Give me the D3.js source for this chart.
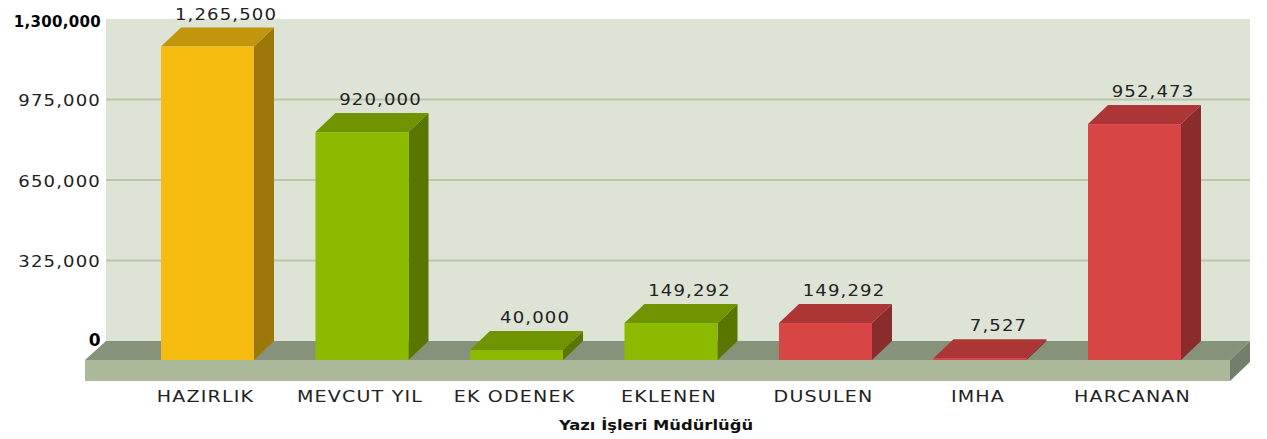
<!DOCTYPE html>
<html>
<head>
<meta charset="utf-8">
<script src="https://cdn.jsdelivr.net/npm/d3@7/dist/d3.min.js"></script>
<style>
html,body{margin:0;padding:0;background:#fff}
svg{display:block}
text{font-family:"DejaVu Sans",sans-serif;fill:#222}
</style>
</head>
<body>
<div id="chart"></div>
<script>
const categories = ["HAZIRLIK","MEVCUT YIL","EK ODENEK","EKLENEN","DUSULEN","IMHA","HARCANAN"];
const values = [1265500,920000,40000,149292,149292,7527,952473];
const groups = ["y","g","g","g","r","r","r"];
const yTicks = [0,325000,650000,975000,1300000];
const boldTicks = [0,1300000];
const xTitle = "Yazı İşleri Müdürlüğü";
const palette = {
  y:{front:"#f5bc0f",top:"#c2960c",side:"#9c780a"},
  g:{front:"#8cba00",top:"#6f9400",side:"#597600"},
  r:{front:"#d84545",top:"#ac3636",side:"#8b2c2c"}
};
const W=1267,H=439, dx=20, dy=19;
const svg=d3.select("#chart").append("svg").attr("width",W).attr("height",H);
const y=d3.scaleLinear().domain([0,1300000]).range([341,19]);
const x=d3.scaleBand().domain(categories).range([130.25,1211.75]).paddingInner(0.398).paddingOuter(0.199);
const fmt=d3.format(",");
const wallL=106, wallR=1250, floorH=21;
const poly=pts=>pts.map(p=>p.join(",")).join(" ");
const place=(px,py,k)=>`translate(${px},${py}) scale(${k},1)`;

svg.append("rect").attr("x",wallL).attr("y",y(1300000)).attr("width",wallR-wallL).attr("height",y(0)-y(1300000)).attr("fill","#dde3d5");
svg.selectAll("line.grid").data(yTicks.slice(1,-1)).join("line").attr("class","grid")
  .attr("x1",wallL).attr("x2",wallR).attr("y1",d=>y(d)).attr("y2",d=>y(d))
  .attr("stroke","#b9c6aa").attr("stroke-width",2);

const fy=y(0)+dy;
svg.append("polygon").attr("points",poly([[wallL-dx-1,fy],[wallL,y(0)],[wallR,y(0)],[wallR-dx,fy]])).attr("fill","#87927a");
svg.append("rect").attr("x",wallL-dx-1).attr("y",fy).attr("width",wallR-wallL+1).attr("height",floorH).attr("fill","#acb89a");
svg.append("polygon").attr("points",poly([[wallR-dx,fy],[wallR,y(0)],[wallR,y(0)+floorH],[wallR-dx,fy+floorH]])).attr("fill","#737f68");

const isBold=d=>boldTicks.includes(d);
svg.append("g").selectAll("text").data(yTicks).join("text")
  .attr("transform",d=>place(101, y(d)+(d===0?5:isBold(d)?8:6.5), isBold(d)?1:1.13))
  .attr("text-anchor","end")
  .attr("font-size",d=>d===0?17:isBold(d)?15:16)
  .attr("font-weight",d=>isBold(d)?"bold":"normal")
  .attr("letter-spacing",d=>isBold(d)?0.3:1)
  .style("fill",d=>isBold(d)?"#000":"#222")
  .text(d=>fmt(d));

const bars=svg.selectAll("g.bar").data(categories.map((c,i)=>({c,v:values[i],p:palette[groups[i]]}))).join("g").attr("class","bar");
bars.each(function(d){
  const g=d3.select(this), l=x(d.c), r=l+x.bandwidth(), h=y(0)-y(d.v), t=fy-h;
  g.append("polygon").attr("points",poly([[r,t],[r+dx,t-dy],[r+dx,fy-dy],[r,fy]])).attr("fill",d.p.side);
  g.append("polygon").attr("points",poly([[l,t],[l+dx,t-dy],[r+dx,t-dy],[r,t]])).attr("fill",d.p.top);
  g.append("rect").attr("x",l).attr("y",t).attr("width",x.bandwidth()).attr("height",h).attr("fill",d.p.front);
  g.append("text").attr("transform",place((l+r)/2+dx-1.5,t-dy-8,1.13)).attr("text-anchor","middle")
    .attr("font-size",16).attr("letter-spacing",1).text(fmt(d.v));
  g.append("text").attr("transform",place((l+r)/2-2,402,1.19)).attr("text-anchor","middle")
    .attr("font-size",16).attr("letter-spacing",1).text(d.c);
});
svg.append("text").attr("transform",place(656,430,1.17)).attr("text-anchor","middle")
  .attr("font-size",14).attr("font-weight","bold").style("fill","#111").text(xTitle);
</script>
</body>
</html>
